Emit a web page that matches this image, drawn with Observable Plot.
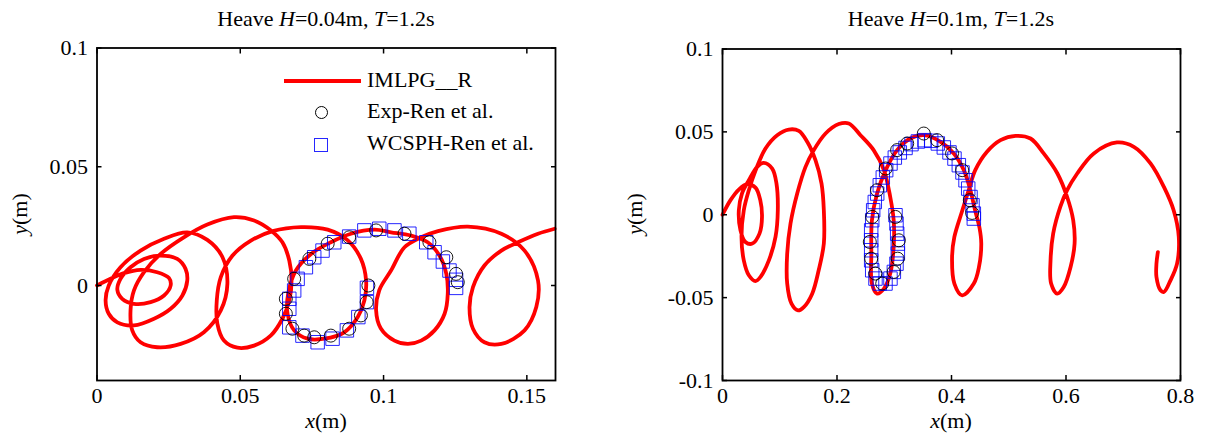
<!DOCTYPE html>
<html><head><meta charset="utf-8">
<script src="https://cdn.jsdelivr.net/npm/d3@7"></script>
<script src="https://cdn.jsdelivr.net/npm/@observablehq/plot@0.6"></script>
<style>
html,body{margin:0;padding:0;background:#fff;}
#wrap{position:relative;width:1208px;height:440px;overflow:hidden;font-family:"Liberation Serif","Times New Roman",serif;color:#000;background:#fff;}
.panel{position:absolute;top:0;width:604px;height:440px;}
.panel svg, .panel svg text{font-family:"Liberation Serif","Times New Roman",serif !important;}
.t{position:absolute;font-size:22px;line-height:22px;white-space:nowrap;}
.c{transform:translateX(-50%);}
.r{transform:translate(-50%,-50%) rotate(-90deg);}
</style></head><body><div id="wrap"></div>
<script>
// ---------------- data ----------------
const titleLeft = ["Heave ", "H", "=0.04m, ", "T", "=1.2s"];
const titleRight = ["Heave ", "H", "=0.1m, ", "T", "=1.2s"];
const seriesNames = ["IMLPG__R", "Exp-Ren et al.", "WCSPH-Ren et al."];

// left panel (H = 0.04 m)
const xTicksL = [0, 0.05, 0.1, 0.15];
const xLabelsL = ["0", "0.05", "0.1", "0.15"];
const yTicksL = [0, 0.05, 0.1];
const yLabelsL = ["0", "0.05", "0.1"];
const imlpgL = [[0,0],[0.0047,0.0028],[0.0094,0.0052],[0.0152,0.0066],[0.021,0.0056],[0.0251,0.0032],[0.0257,0],[0.0234,-0.0042],[0.0187,-0.007],[0.0129,-0.0077],[0.0088,-0.0056],[0.0071,-0.0018],[0.0082,0.0028],[0.0117,0.0077],[0.0164,0.0112],[0.0222,0.0126],[0.028,0.0112],[0.0309,0.007],[0.0315,0.0021],[0.0298,-0.0042],[0.0257,-0.0098],[0.0199,-0.014],[0.0129,-0.0168],[0.0071,-0.0155],[0.0041,-0.0119],[0.003,-0.0063],[0.0041,0],[0.0082,0.0077],[0.0152,0.0147],[0.0234,0.0197],[0.0315,0.0224],[0.0385,0.0192],[0.0438,0.0119],[0.0455,0.0007],[0.0432,-0.0105],[0.0373,-0.0197],[0.0292,-0.0246],[0.021,-0.026],[0.0152,-0.0239],[0.0123,-0.0189],[0.0117,-0.0105],[0.0129,-0.0021],[0.0164,0.0056],[0.0222,0.0133],[0.0303,0.0203],[0.0385,0.0257],[0.0478,0.0288],[0.0548,0.0274],[0.0607,0.0232],[0.0647,0.0182],[0.0671,0.0105],[0.0679,0.0021],[0.0671,-0.0063],[0.0647,-0.014],[0.0607,-0.021],[0.0548,-0.0253],[0.049,-0.0262],[0.0443,-0.0232],[0.042,-0.0161],[0.0418,-0.0063],[0.0432,0.0035],[0.0473,0.0126],[0.0537,0.0189],[0.0613,0.0229],[0.0712,0.0246],[0.0805,0.0235],[0.0875,0.019],[0.0921,0.0112],[0.0939,0.0021],[0.0933,-0.0063],[0.091,-0.0133],[0.0863,-0.0197],[0.0793,-0.0224],[0.0735,-0.0224],[0.0688,-0.0189],[0.0665,-0.0119],[0.0667,-0.0035],[0.0694,0.0063],[0.0747,0.0133],[0.0816,0.0182],[0.0886,0.0218],[0.0968,0.0235],[0.1026,0.0224],[0.1096,0.021],[0.1154,0.0182],[0.1195,0.0126],[0.1219,0.0049],[0.1224,-0.0035],[0.1213,-0.0119],[0.1178,-0.0189],[0.1131,-0.0232],[0.1085,-0.0246],[0.1038,-0.0232],[0.099,-0.018],[0.0974,-0.0105],[0.0985,-0.002],[0.1026,0.0063],[0.1073,0.0161],[0.1131,0.0203],[0.119,0.0229],[0.1294,0.0248],[0.1411,0.0218],[0.1492,0.0147],[0.1539,0.0021],[0.1533,-0.0091],[0.1492,-0.0189],[0.1411,-0.0246],[0.1352,-0.0239],[0.1312,-0.0182],[0.13,-0.0091],[0.1312,-0.0007],[0.1352,0.0084],[0.1411,0.0147],[0.1469,0.0182],[0.1539,0.0218],[0.1597,0.0239]];
const expL = [[0.0947,0.0],[0.0941,-0.007],[0.0921,-0.0126],[0.088,-0.0182],[0.0816,-0.0211],[0.0758,-0.0218],[0.0723,-0.0211],[0.0682,-0.0182],[0.0659,-0.0119],[0.0659,-0.0056],[0.0688,0.0028],[0.0741,0.0112],[0.0805,0.0176],[0.088,0.0203],[0.0974,0.0232],[0.1073,0.0218],[0.116,0.0182],[0.1219,0.0119],[0.1253,0.0049],[0.1259,0.0014]];
const sphL = [[0.0942,-0.001],[0.0942,-0.007],[0.0912,-0.0133],[0.0872,-0.0189],[0.0822,-0.0224],[0.077,-0.0239],[0.0717,-0.0211],[0.0671,-0.0176],[0.0671,-0.0098],[0.0671,-0.0056],[0.0688,-0.0021],[0.07,0.0028],[0.0729,0.0077],[0.0758,0.0119],[0.0787,0.0147],[0.0828,0.0182],[0.088,0.0206],[0.0933,0.0232],[0.0985,0.0239],[0.1038,0.0232],[0.109,0.0218],[0.1149,0.0182],[0.1178,0.014],[0.1207,0.0101],[0.123,0.0063],[0.1253,0.0024],[0.1253,-0.001]];

// right panel (H = 0.1 m)
const xTicksR = [0, 0.2, 0.4, 0.6, 0.8];
const xLabelsR = ["0", "0.2", "0.4", "0.6", "0.8"];
const yTicksR = [-0.1, -0.05, 0, 0.05, 0.1];
const yLabelsR = ["-0.1", "-0.05", "0", "0.05", "0.1"];
const imlpgR = [[0,0],[0.014,0.0088],[0.0285,0.0152],[0.043,0.0184],[0.0576,0.0164],[0.066,0.0088],[0.069,-0.0013],[0.0646,-0.0114],[0.052,-0.0174],[0.04,-0.0164],[0.0314,-0.0094],[0.0285,0.0027],[0.034,0.0128],[0.046,0.0208],[0.0606,0.0289],[0.072,0.0313],[0.0868,0.0279],[0.0943,0.0188],[0.0966,0.0027],[0.0926,-0.0134],[0.081,-0.0275],[0.0664,-0.0375],[0.0576,-0.04],[0.046,-0.0365],[0.0372,-0.0275],[0.0332,-0.0134],[0.0372,0.0027],[0.046,0.0148],[0.058,0.027],[0.0751,0.04],[0.0955,0.048],[0.1158,0.0514],[0.1333,0.0506],[0.148,0.044],[0.1624,0.0329],[0.173,0.0188],[0.177,0.0027],[0.177,-0.0174],[0.168,-0.0335],[0.1567,-0.0476],[0.142,-0.0557],[0.132,-0.0577],[0.1205,-0.0536],[0.113,-0.0415],[0.113,-0.0234],[0.1188,-0.0053],[0.1305,0.0128],[0.145,0.0289],[0.1595,0.039],[0.18,0.049],[0.203,0.0547],[0.2206,0.0551],[0.241,0.048],[0.264,0.039],[0.282,0.0269],[0.293,0.0107],[0.299,-0.0033],[0.299,-0.0194],[0.293,-0.0355],[0.282,-0.0446],[0.27,-0.0476],[0.261,-0.0415],[0.26,-0.0234],[0.261,-0.0033],[0.27,0.0128],[0.285,0.0269],[0.305,0.039],[0.328,0.046],[0.352,0.048],[0.381,0.044],[0.404,0.037],[0.4216,0.0269],[0.433,0.0148],[0.441,0.003],[0.449,-0.008],[0.452,-0.0174],[0.448,-0.0315],[0.439,-0.0415],[0.4187,-0.0486],[0.405,-0.0415],[0.401,-0.0255],[0.405,-0.0134],[0.419,0.0027],[0.43,0.0148],[0.4415,0.0269],[0.462,0.038],[0.4856,0.045],[0.512,0.0476],[0.538,0.046],[0.561,0.037],[0.585,0.0249],[0.602,0.0107],[0.6126,-0.0033],[0.615,-0.0174],[0.608,-0.0315],[0.596,-0.0436],[0.5846,-0.0476],[0.574,-0.0415],[0.573,-0.0275],[0.5776,-0.0114],[0.59,0.0047],[0.602,0.0148],[0.6196,0.0249],[0.6486,0.037],[0.689,0.0436],[0.7185,0.041],[0.7476,0.031],[0.771,0.0168],[0.788,0.0027],[0.797,-0.0134],[0.794,-0.0295],[0.7825,-0.0396],[0.771,-0.0466],[0.765,-0.0456],[0.758,-0.0376],[0.758,-0.0295],[0.7605,-0.0225]];
const expR = [[0.305,0.039],[0.285,0.0279],[0.27,0.0148],[0.2615,-0.0013],[0.2573,-0.0164],[0.2597,-0.0265],[0.267,-0.0355],[0.279,-0.0415],[0.299,-0.0345],[0.306,-0.0265],[0.308,-0.0154],[0.302,-0.0013],[0.3226,0.043],[0.3516,0.049],[0.375,0.045],[0.401,0.037],[0.4187,0.0269],[0.432,0.0088],[0.436,0.0011]];
const sphR = [[0.3022,-0.0003],[0.3039,-0.0053],[0.3051,-0.0114],[0.3063,-0.0174],[0.3063,-0.0234],[0.3039,-0.0295],[0.2993,-0.0345],[0.2934,-0.0385],[0.2847,-0.0415],[0.2748,-0.0415],[0.2672,-0.0385],[0.2615,-0.0335],[0.2597,-0.0275],[0.2597,-0.0214],[0.2597,-0.0154],[0.2597,-0.0094],[0.2615,-0.0033],[0.2632,0.0027],[0.266,0.0077],[0.2702,0.0128],[0.2748,0.0178],[0.28,0.0225],[0.2859,0.0269],[0.2934,0.0309],[0.301,0.0345],[0.3097,0.0376],[0.3197,0.0403],[0.3301,0.0426],[0.3412,0.0442],[0.3528,0.045],[0.3645,0.0446],[0.3761,0.043],[0.3866,0.0406],[0.3965,0.0376],[0.4052,0.0339],[0.4128,0.0299],[0.4192,0.0255],[0.4245,0.0208],[0.4292,0.0158],[0.4332,0.0107],[0.4367,0.0057],[0.439,0.0007],[0.439,-0.0023]];

// ---------------- drawing ----------------
const FONT = '"Liberation Serif","Times New Roman",serif';
function panel(o) {
  const fmt = (ticks, labels) => d => { const i = ticks.indexOf(d); return i < 0 ? "" : labels[i]; };
  const X = d => d[0], Y = d => d[1];
  const ax = {tickSize: -5, label: null, strokeWidth: 1.5, fontFamily: FONT, fontSize: 22};
  return Plot.plot({
    width: 604, height: 440,
    marginLeft: o.ml, marginRight: o.mr, marginTop: o.mt, marginBottom: o.mb,
    x: {domain: o.xDomain}, y: {domain: o.yDomain},
    style: {fontFamily: FONT, fontSize: "22px", color: "black", background: "white", overflow: "visible"},
    marks: [
      Plot.line(o.line, {x: X, y: Y, curve: "catmull-rom", stroke: "#ff0000", strokeWidth: 3.8, strokeLinejoin: "round", strokeLinecap: "round"}),
      Plot.dot(o.sph, {x: X, y: Y, symbol: "square", r: 7.6, fill: "none", stroke: "#0000ff", strokeWidth: 1, strokeOpacity: 0.85}),
      Plot.dot(o.exp, {x: X, y: Y, r: 6.5, fill: "none", stroke: "black", strokeWidth: 0.9}),
      Plot.frame({stroke: "black", strokeWidth: 1.8}),
      Plot.axisX({...ax, anchor: "bottom", ticks: o.xTicks, tickPadding: 12, tickFormat: fmt(o.xTicks, o.xLabels)}),
      Plot.axisX({...ax, anchor: "top", ticks: o.xTicks, tickFormat: () => ""}),
      Plot.axisY({...ax, anchor: "left", ticks: o.yTicks, tickPadding: 14, tickFormat: fmt(o.yTicks, o.yLabels)}),
      Plot.axisY({...ax, anchor: "right", ticks: o.yTicks, tickFormat: () => ""})
    ]
  });
}

const wrap = document.getElementById("wrap");
function addPanel(svg, left) {
  const d = document.createElement("div");
  d.className = "panel"; d.style.left = left + "px";
  d.appendChild(svg); wrap.appendChild(d);
}
addPanel(panel({line: imlpgL, exp: expL, sph: sphL, xDomain: [0, 0.16], yDomain: [-0.04, 0.1],
  xTicks: xTicksL, xLabels: xLabelsL, yTicks: yTicksL, yLabels: yLabelsL, ml: 96.5, mr: 49, mt: 47.5, mb: 60}), 0);
addPanel(panel({line: imlpgR, exp: expR, sph: sphR, xDomain: [0, 0.8], yDomain: [-0.1, 0.1],
  xTicks: xTicksR, xLabels: xLabelsR, yTicks: yTicksR, yLabels: yLabelsR, ml: 118, mr: 28, mt: 48.5, mb: 60}), 604);

function text(parts, cls, left, top) {
  const d = document.createElement("div");
  d.className = "t " + cls;
  d.style.left = left + "px"; d.style.top = top + "px";
  parts.forEach((p, i) => {
    const s = document.createElement(i % 2 ? "i" : "span");
    s.textContent = p; d.appendChild(s);
  });
  wrap.appendChild(d);
  return d;
}
// titles
text(titleLeft, "c", 326, 7.6);
text(titleRight, "c", 951, 7.6);
// x labels
text(["", "x", "(m)"], "c", 326, 409.6);
text(["", "x", "(m)"], "c", 951, 409.6);
// y labels (rotated)
text(["", "y", "(m)"], "r", 20, 214);
text(["", "y", "(m)"], "r", 635, 214);

// legend (left panel)
function box(left, top, w, h, css) {
  const d = document.createElement("div");
  d.style.cssText = `position:absolute;left:${left}px;top:${top}px;width:${w}px;height:${h}px;box-sizing:border-box;${css}`;
  wrap.appendChild(d);
}
box(283.5, 79, 77, 4, "background:#ff0000;");
box(314.5, 106.2, 13, 13, "border:0.9px solid #000;border-radius:50%;");
box(314, 138, 14, 14, "border:1px solid rgba(0,0,255,0.85);");
text([seriesNames[0]], "", 367, 68.6);
text([seriesNames[1]], "", 367, 100.1);
text([seriesNames[2]], "", 367, 131.6);
</script></body></html>
